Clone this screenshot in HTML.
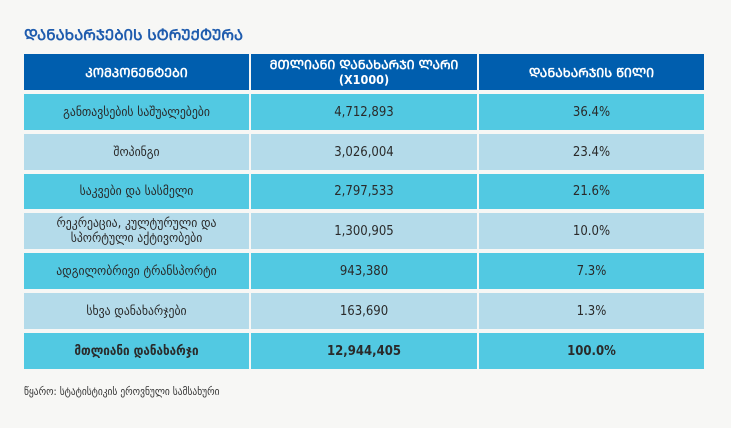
<!DOCTYPE html>
<html><head><meta charset="utf-8"><style>
body{margin:0;width:731px;height:428px;background:#f7f7f5;position:relative;overflow:hidden;font-family:"DejaVu Sans Condensed","DejaVu Sans","Liberation Sans",sans-serif;}
.t{position:absolute;left:24px;top:25px;color:#1f5cae;font-weight:bold;font-size:15px;}
.c{position:absolute;display:flex;align-items:center;justify-content:center;text-align:center;font-size:13px;color:#2a2a2a;line-height:15px;}
.h{background:#005eae;color:#fff;font-weight:bold;font-size:12.5px;}
.a{background:#52c9e2;}
.b{background:#b4dbea;}
.f{font-weight:bold;}
.n{position:absolute;left:24px;top:386px;font-size:10.5px;color:#333;}
</style></head><body>
<div class="t">ᲓᲐᲜᲐᲮᲐᲠᲯᲔᲑᲘᲡ ᲡᲢᲠᲣᲥᲢᲣᲠᲐ</div>
<div class="c h" style="left:24px;top:54px;width:225px;height:36px">ᲙᲝᲛᲞᲝᲜᲔᲜᲢᲔᲑᲘ</div>
<div class="c h" style="left:251px;top:54px;width:226px;height:36px">ᲛᲗᲚᲘᲐᲜᲘ ᲓᲐᲜᲐᲮᲐᲠᲯᲘ ᲚᲐᲠᲘ<br>(X1000)</div>
<div class="c h" style="left:479px;top:54px;width:225px;height:36px">ᲓᲐᲜᲐᲮᲐᲠᲯᲘᲡ ᲬᲘᲚᲘ</div>

<div class="c a" style="left:24px;top:94px;width:225px;height:36px">განთავსების საშუალებები</div>
<div class="c a" style="left:251px;top:94px;width:226px;height:36px">4,712,893</div>
<div class="c a" style="left:479px;top:94px;width:225px;height:36px">36.4%</div>

<div class="c b" style="left:24px;top:134px;width:225px;height:36px">შოპინგი</div>
<div class="c b" style="left:251px;top:134px;width:226px;height:36px">3,026,004</div>
<div class="c b" style="left:479px;top:134px;width:225px;height:36px">23.4%</div>

<div class="c a" style="left:24px;top:174px;width:225px;height:35px">საკვები და სასმელი</div>
<div class="c a" style="left:251px;top:174px;width:226px;height:35px">2,797,533</div>
<div class="c a" style="left:479px;top:174px;width:225px;height:35px">21.6%</div>

<div class="c b" style="left:24px;top:213px;width:225px;height:36px">რეკრეაცია, კულტურული და<br>სპორტული აქტივობები</div>
<div class="c b" style="left:251px;top:213px;width:226px;height:36px">1,300,905</div>
<div class="c b" style="left:479px;top:213px;width:225px;height:36px">10.0%</div>

<div class="c a" style="left:24px;top:253px;width:225px;height:36px">ადგილობრივი ტრანსპორტი</div>
<div class="c a" style="left:251px;top:253px;width:226px;height:36px">943,380</div>
<div class="c a" style="left:479px;top:253px;width:225px;height:36px">7.3%</div>

<div class="c b" style="left:24px;top:293px;width:225px;height:36px">სხვა დანახარჯები</div>
<div class="c b" style="left:251px;top:293px;width:226px;height:36px">163,690</div>
<div class="c b" style="left:479px;top:293px;width:225px;height:36px">1.3%</div>

<div class="c a f" style="left:24px;top:333px;width:225px;height:36px">მთლიანი დანახარჯი</div>
<div class="c a f" style="left:251px;top:333px;width:226px;height:36px">12,944,405</div>
<div class="c a f" style="left:479px;top:333px;width:225px;height:36px">100.0%</div>

<div class="n">წყარო: სტატისტიკის ეროვნული სამსახური</div>
</body></html>
